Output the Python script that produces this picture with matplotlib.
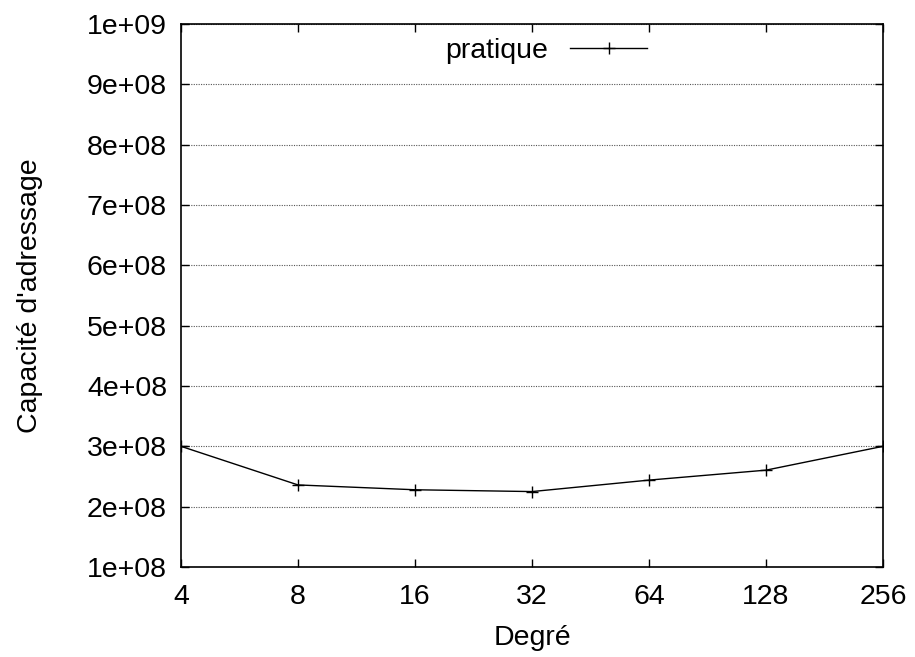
import matplotlib
matplotlib.use('Agg')
import matplotlib.pyplot as plt

# data
degres = [4, 8, 16, 32, 64, 128, 256]
capacite = [3.0e8, 2.36e8, 2.28e8, 2.25e8, 2.44e8, 2.605e8, 3.0e8]
yticks = [1e8, 2e8, 3e8, 4e8, 5e8, 6e8, 7e8, 8e8, 9e8, 1e9]
ytick_labels = ['1e+08', '2e+08', '3e+08', '4e+08', '5e+08', '6e+08', '7e+08', '8e+08', '9e+08', '1e+09']

plt.rcParams['font.family'] = ['Liberation Sans', 'DejaVu Sans']
plt.rcParams['font.size'] = 20.5

fig = plt.figure(figsize=(9.15, 6.57), dpi=100)
ax = fig.add_axes([0.1978, 0.137, 0.7672, 0.8265])

ax.plot(degres, capacite, color='black', lw=1, marker='+', ms=8, mew=1, label='pratique')

ax.set_xscale('log', base=2)
ax.set_xlim(4, 256)
ax.set_xticks(degres)
ax.set_xticklabels([str(d) for d in degres])
ax.minorticks_off()
ax.set_ylim(1e8, 1e9)
ax.set_yticks(yticks)
ax.set_yticklabels(ytick_labels)

ax.grid(axis='y', color='#555555', linestyle=(0, (1, 1.2)), lw=0.8)
ax.tick_params(direction='in', top=True, right=True, length=6, width=1, pad=10)
ax.tick_params(axis='x', pad=12)
for s in ax.spines.values():
    s.set_linewidth(1.2)

ax.set_xlabel('Degré', labelpad=11)
ax.set_ylabel("Capacité d'adressage", labelpad=32)

ax.legend(loc='upper center', bbox_to_anchor=(0.52, 1.0), frameon=False,
          markerfirst=False, handlelength=2.7, handletextpad=0.8, borderaxespad=0.1)

fig.savefig('out.png', dpi=100)
